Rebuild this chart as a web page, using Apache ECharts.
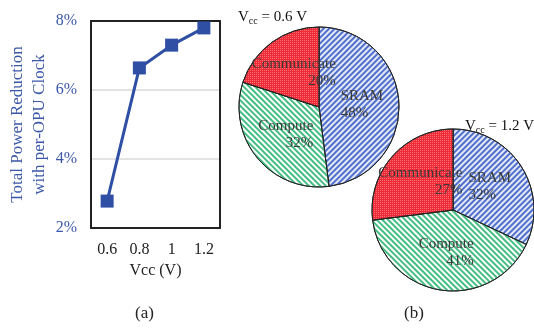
<!DOCTYPE html>
<html><head><meta charset="utf-8">
<script src="https://cdn.jsdelivr.net/npm/echarts@6/dist/echarts.min.js"></script>
<style>html,body{margin:0;padding:0;background:#fff}#c{width:534px;height:329px}</style>
</head><body><div id="c"></div>
<script>
const vcc = ['0.6', '0.8', '1', '1.2'];
const reduction = [2.78, 6.64, 7.30, 7.80];
const pieNames = ['SRAM', 'Compute', 'Communicate'];
const pie06 = [48, 32, 20];
const pie12 = [32, 41, 27];

const serif = 'Liberation Serif';
const blue = '#2E4FA3';
const labelBlue = '#3B58A8';

const styles = {
  SRAM: {color: '#e4e9f7', decal: {symbol: 'rect', symbolSize: 1, dashArrayX: [[1, 0]], dashArrayY: [1.4, 1.6], rotation: -Math.PI / 4, color: '#5070cc'}},
  Compute: {color: '#ffffff', decal: {symbol: 'rect', symbolSize: 1, dashArrayX: [[1, 0]], dashArrayY: [1.4, 1.6], rotation: Math.PI / 4, color: '#45bd82'}},
  Communicate: {color: '#f02a36', decal: {symbol: 'rect', symbolSize: 1, dashArrayX: [[1, 1]], dashArrayY: [1, 1], rotation: 0, color: 'rgba(255,160,160,0.6)'}}
};
const aligns = {SRAM: 'left', Compute: 'right', Communicate: 'right'};

function pieData(vals) {
  return pieNames.map((n, i) => ({
    name: n, value: vals[i],
    itemStyle: Object.assign({borderColor: '#222', borderWidth: 1}, styles[n]),
    label: {formatter: '{n|{b}}\n{' + aligns[n] + '|{c}%}'}
  }));
}
const richLbl = {
  n: {fontFamily: serif, fontSize: 15, color: '#3a3a3a', lineHeight: 17},
  left: {fontFamily: serif, fontSize: 15, color: '#3a3a3a', lineHeight: 17, align: 'left'},
  right: {fontFamily: serif, fontSize: 15, color: '#3a3a3a', lineHeight: 17, align: 'right'}
};
const titleRich = {
  v: {fontFamily: serif, fontSize: 15, fontWeight: 'normal', color: '#111'},
  s: {fontFamily: serif, fontSize: 10, fontWeight: 'normal', color: '#111', padding: [8, 0, 0, 0]}
};
const boxLine = {show: true, lineStyle: {color: '#222', width: 2}};

const chart = echarts.init(document.getElementById('c'));
chart.setOption({
  animation: false,
  title: [
    {text: '{v|V}{s|cc}{v| = 0.6 V}', left: 233, top: 3, textStyle: {fontWeight: 'normal', rich: titleRich}},
    {text: '{v|V}{s|cc}{v| = 1.2 V}', left: 460, top: 112, textStyle: {fontWeight: 'normal', rich: titleRich}},
    {text: '(a)', left: 130, top: 300, textStyle: {fontFamily: serif, fontSize: 17, fontWeight: 'normal', color: '#222'}},
    {text: '(b)', left: 399, top: 300, textStyle: {fontFamily: serif, fontSize: 17, fontWeight: 'normal', color: '#222'}}
  ],
  grid: {left: 91, right: 314, top: 21, bottom: 101},
  xAxis: [{
    type: 'category', data: vcc, boundaryGap: true,
    name: 'Vcc (V)', nameLocation: 'middle', nameGap: 33,
    nameTextStyle: {fontFamily: serif, fontSize: 16, color: '#222'},
    axisLine: boxLine, axisTick: {show: false},
    axisLabel: {fontFamily: serif, fontSize: 16, color: '#222', margin: 14}
  }, {
    type: 'category', data: vcc, position: 'top',
    axisLine: boxLine, axisTick: {show: false}, axisLabel: {show: false}
  }],
  yAxis: [{
    type: 'value', min: 2, max: 8, interval: 2,
    name: 'Total Power Reduction\nwith per-OPU Clock', nameLocation: 'middle', nameRotate: 90, nameGap: 40,
    nameTextStyle: {fontFamily: serif, fontSize: 17, color: labelBlue, lineHeight: 22},
    axisLine: boxLine, axisTick: {show: false},
    axisLabel: {formatter: '{value}%', fontFamily: serif, fontSize: 16, color: labelBlue, margin: 14},
    splitLine: {lineStyle: {color: '#e3e3e3', width: 2}}
  }, {
    type: 'value', min: 2, max: 8, interval: 2, position: 'right',
    axisLine: boxLine, axisTick: {show: false}, axisLabel: {show: false}, splitLine: {show: false}
  }],
  series: [
    {
      type: 'line', data: reduction, symbol: 'rect', symbolSize: 13,
      lineStyle: {color: blue, width: 3}, itemStyle: {color: blue}, z: 5
    },
    {
      type: 'pie', center: [319, 107], radius: 80, startAngle: 90, clockwise: true,
      data: pieData(pie06), label: {position: 'inside', rich: richLbl}, labelLine: {show: false},
      emphasis: {disabled: true}
    },
    {
      type: 'pie', center: [453, 210], radius: 81, startAngle: 90, clockwise: true,
      data: pieData(pie12), label: {position: 'inside', rich: richLbl}, labelLine: {show: false},
      emphasis: {disabled: true}
    }
  ]
});
</script></body></html>
